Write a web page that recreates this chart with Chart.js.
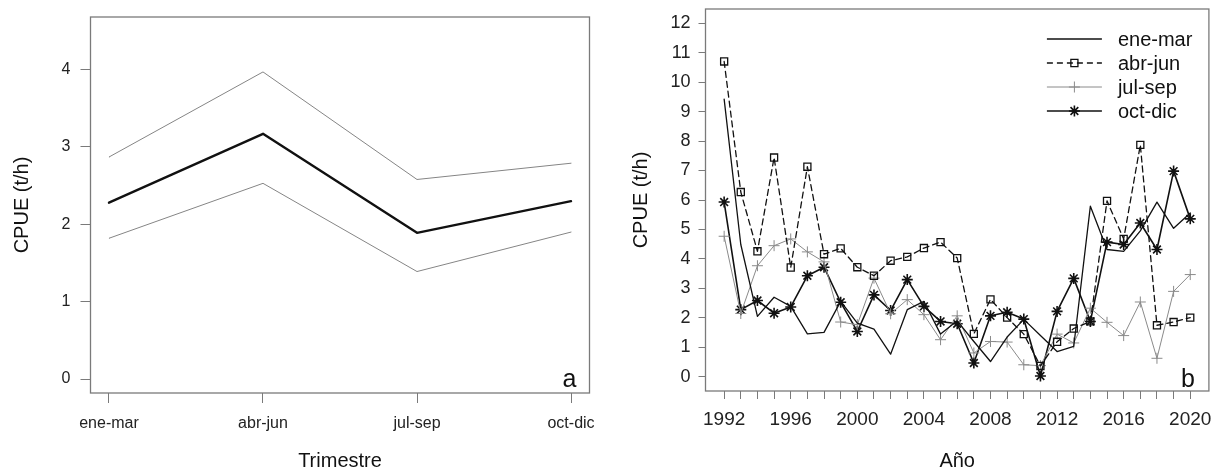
<!DOCTYPE html>
<html>
<head>
<meta charset="utf-8">
<script src="https://cdn.jsdelivr.net/npm/chart.js@4.4.1/dist/chart.umd.min.js"></script>
<style>
  html, body { margin: 0; padding: 0; background: #fff; }
  #wrap { position: relative; width: 1216px; height: 471px; }
  .panel { position: absolute; top: 0; width: 608px; height: 471px; }
  #panelA { left: 0; }
  #panelB { left: 608px; }
</style>
</head>
<body>
<div id="wrap">
  <div class="panel" id="panelA"><canvas id="chartA" width="608" height="471"></canvas></div>
  <div class="panel" id="panelB"><canvas id="chartB" width="608" height="471"></canvas></div>
</div>
<script>
// Panel a: CPUE by quarter with confidence band
const quarters = ['ene-mar', 'abr-jun', 'jul-sep', 'oct-dic'];
const quarterMean = [2.28, 3.17, 1.89, 2.30];
const quarterUpper = [2.87, 3.97, 2.58, 2.79];
const quarterLower = [1.82, 2.53, 1.39, 1.90];
const cpueTicksA = [0, 1, 2, 3, 4];

// Panel b: yearly CPUE for each quarter
const years = [1992, 1993, 1994, 1995, 1996, 1997, 1998, 1999, 2000, 2001,
               2002, 2003, 2004, 2005, 2006, 2007, 2008, 2009, 2010, 2011,
               2012, 2013, 2014, 2015, 2016, 2017, 2018, 2019, 2020];
const yearLabels = [1992, 1996, 2000, 2004, 2008, 2012, 2016, 2020];
const cpueTicksB = [0, 1, 2, 3, 4, 5, 6, 7, 8, 9, 10, 11, 12];

const cpueEneMar = [9.42, 4.49, 2.05, 2.70, 2.39, 1.46, 1.51, 2.56, 1.82, 1.62,
                    0.77, 2.28, 2.56, 1.45, 1.90, 1.20, 0.52, 1.35, 1.95, 1.40,
                    0.86, 1.03, 5.79, 4.32, 4.26, 4.95, 5.93, 5.04, 5.56];
const cpueAbrJun = [10.70, 6.27, 4.26, 7.44, 3.71, 7.13, 4.16, 4.36, 3.72, 3.43,
                    3.94, 4.07, 4.37, 4.57, 4.03, 1.46, 2.63, 2.01, 1.45, 0.37,
                    1.19, 1.64, 1.88, 5.97, 4.68, 7.87, 1.75, 1.86, 2.01];
const cpueJulSep = [4.77, 2.15, 3.77, 4.45, 4.68, 4.24, 3.90, 1.86, 1.77, 3.35,
                    2.14, 2.62, 2.11, 1.26, 2.07, 0.81, 1.20, 1.18, 0.41, 0.38,
                    1.45, 1.15, 2.33, 1.85, 1.40, 2.54, 0.63, 2.90, 3.47];
const cpueOctDic = [5.93, 2.28, 2.59, 2.16, 2.37, 3.43, 3.72, 2.53, 1.54, 2.78,
                    2.25, 3.30, 2.39, 1.88, 1.80, 0.47, 2.07, 2.19, 1.96, 0.03,
                    2.22, 3.34, 1.88, 4.57, 4.49, 5.22, 4.32, 6.98, 5.36];

Chart.defaults.font.family = "'Liberation Sans', Arial, sans-serif";
Chart.defaults.color = '#222';

const AXIS_GREY = '#7a7a7a';

// fixed-size axis boxes so the plot region lands where we want it;
// tick-label overhang must not push the plot region inwards
function fixBox(size) {
    return s => {
        if (s.isHorizontal()) s.height = size; else s.width = size;
        s.paddingTop = 0;
        s.paddingBottom = 0;
        s.paddingLeft = 0;
        s.paddingRight = 0;
    };
}

// box around the plotting region plus the panel letter in the corner
const panelFrame = {
    id: 'panelFrame',
    afterDatasetsDraw(chart, args, opts) {
        const { ctx, chartArea: a } = chart;
        ctx.save();
        ctx.strokeStyle = AXIS_GREY;
        ctx.lineWidth = 1.3;
        ctx.strokeRect(a.left, a.top, a.right - a.left, a.bottom - a.top);
        ctx.fillStyle = '#111';
        ctx.font = "25px 'Liberation Sans', Arial, sans-serif";
        ctx.textAlign = 'right';
        ctx.textBaseline = 'alphabetic';
        ctx.fillText(opts.letter, a.right - opts.dx, a.bottom - opts.dy);
        ctx.restore();
    }
};

// key in the top-right corner: line segment, marker in the middle, label
const seriesKey = {
    id: 'seriesKey',
    afterDatasetsDraw(chart, args, opts) {
        const { ctx, chartArea: a } = chart;
        chart.data.datasets.forEach((ds, i) => {
            const y = a.top + opts.top + i * opts.rowGap;
            const x0 = a.right - opts.lineStart;
            const x1 = x0 + opts.lineLength;
            ctx.save();
            ctx.strokeStyle = ds.borderColor;
            ctx.lineWidth = ds.borderWidth;
            ctx.setLineDash(ds.borderDash || []);
            ctx.beginPath();
            ctx.moveTo(x0, y);
            ctx.lineTo(x1, y);
            ctx.stroke();
            ctx.setLineDash([]);
            if (ds.pointRadius > 0) {
                ctx.fillStyle = 'rgba(0,0,0,0)';
                ctx.strokeStyle = ds.pointBorderColor;
                ctx.lineWidth = ds.pointBorderWidth;
                Chart.helpers.drawPoint(ctx, {
                    pointStyle: ds.pointStyle,
                    radius: ds.pointRadius,
                    borderWidth: ds.pointBorderWidth,
                    rotation: 0
                }, (x0 + x1) / 2, y);
            }
            ctx.fillStyle = '#111';
            ctx.font = "20px 'Liberation Sans', Arial, sans-serif";
            ctx.textAlign = 'left';
            ctx.textBaseline = 'middle';
            ctx.fillText(ds.label, x1 + opts.textGap, y + 1);
            ctx.restore();
        });
    }
};

function pairs(xs, ys) {
    return xs.map((x, i) => ({ x: x, y: ys[i] }));
}

const quarterIdx = [1, 2, 3, 4];

// ---- panel a ----
new Chart(document.getElementById('chartA').getContext('2d'), {
    type: 'line',
    data: {
        datasets: [
            {
                label: 'superior',
                data: pairs(quarterIdx, quarterUpper),
                borderColor: '#858585',
                borderWidth: 1,
                pointRadius: 0
            },
            {
                label: 'media',
                data: pairs(quarterIdx, quarterMean),
                borderColor: '#111',
                borderWidth: 2.4,
                pointRadius: 0
            },
            {
                label: 'inferior',
                data: pairs(quarterIdx, quarterLower),
                borderColor: '#858585',
                borderWidth: 1,
                pointRadius: 0
            }
        ]
    },
    options: {
        responsive: false,
        animation: false,
        events: [],
        layout: { padding: { left: 0, top: 17, right: 18.5, bottom: 0 } },
        elements: { line: { tension: 0, borderCapStyle: 'round', borderJoinStyle: 'round' } },
        plugins: {
            legend: { display: false },
            tooltip: { enabled: false },
            panelFrame: { letter: 'a', dx: 13, dy: 6 }
        },
        scales: {
            x: {
                type: 'linear',
                min: 0.88,
                max: 4.12,
                afterBuildTicks: s => { s.ticks = quarterIdx.map(v => ({ value: v })); },
                afterFit: fixBox(78),
                ticks: {
                    autoSkip: false,
                    maxRotation: 0,
                    minRotation: 0,
                    padding: 11,
                    font: { size: 16 },
                    callback: v => quarters[v - 1]
                },
                grid: { drawOnChartArea: false, tickLength: 10, color: AXIS_GREY },
                border: { display: false },
                title: {
                    display: true,
                    text: 'Trimestre',
                    color: '#111',
                    font: { size: 20, lineHeight: 1 },
                    padding: { top: 0, bottom: 0 }
                }
            },
            y: {
                type: 'linear',
                min: -0.18,
                max: 4.68,
                afterBuildTicks: s => { s.ticks = cpueTicksA.map(v => ({ value: v })); },
                afterFit: fixBox(90.5),
                ticks: { padding: 10, font: { size: 16 } },
                grid: { drawOnChartArea: false, tickLength: 10, color: AXIS_GREY },
                border: { display: false },
                title: {
                    display: true,
                    text: 'CPUE (t/h)',
                    color: '#111',
                    font: { size: 20, lineHeight: 1 },
                    padding: { top: 12, bottom: 0 }
                }
            }
        }
    },
    plugins: [panelFrame]
});

// ---- panel b ----
new Chart(document.getElementById('chartB').getContext('2d'), {
    type: 'line',
    data: {
        datasets: [
            {
                label: 'ene-mar',
                data: pairs(years, cpueEneMar),
                borderColor: '#111',
                borderWidth: 1.3,
                pointRadius: 0
            },
            {
                label: 'abr-jun',
                data: pairs(years, cpueAbrJun),
                borderColor: '#111',
                borderWidth: 1.3,
                borderDash: [6, 4],
                pointStyle: 'rect',
                pointRadius: 5,
                pointBorderWidth: 1.3,
                pointBorderColor: '#111',
                pointBackgroundColor: 'rgba(0,0,0,0)'
            },
            {
                label: 'jul-sep',
                data: pairs(years, cpueJulSep),
                borderColor: '#8a8a8a',
                borderWidth: 1,
                pointStyle: 'cross',
                pointRadius: 5.5,
                pointBorderWidth: 1,
                pointBorderColor: '#8a8a8a',
                pointBackgroundColor: 'rgba(0,0,0,0)'
            },
            {
                label: 'oct-dic',
                data: pairs(years, cpueOctDic),
                borderColor: '#111',
                borderWidth: 1.6,
                pointStyle: 'star',
                pointRadius: 5.5,
                pointBorderWidth: 1.6,
                pointBorderColor: '#111',
                pointBackgroundColor: 'rgba(0,0,0,0)'
            }
        ]
    },
    options: {
        responsive: false,
        animation: false,
        events: [],
        layout: { padding: { left: 0, top: 9, right: 2.5, bottom: 0 } },
        elements: { line: { tension: 0, borderCapStyle: 'round', borderJoinStyle: 'round' } },
        plugins: {
            legend: { display: false },
            tooltip: { enabled: false },
            panelFrame: { letter: 'b', dx: 14, dy: 4 },
            seriesKey: { top: 30, rowGap: 24, lineStart: 162, lineLength: 55, textGap: 16 }
        },
        scales: {
            x: {
                type: 'linear',
                min: 1990.88,
                max: 2021.12,
                afterBuildTicks: s => { s.ticks = years.map(v => ({ value: v })); },
                afterFit: fixBox(80),
                ticks: {
                    autoSkip: false,
                    maxRotation: 0,
                    minRotation: 0,
                    padding: 9,
                    font: { size: 19 },
                    callback: v => yearLabels.includes(v) ? String(v) : ''
                },
                grid: { drawOnChartArea: false, tickLength: 8, color: AXIS_GREY },
                border: { display: false },
                title: {
                    display: true,
                    text: 'Año',
                    color: '#111',
                    font: { size: 20, lineHeight: 1 },
                    padding: { top: 0, bottom: 0 }
                }
            },
            y: {
                type: 'linear',
                min: -0.48,
                max: 12.48,
                afterBuildTicks: s => { s.ticks = cpueTicksB.map(v => ({ value: v })); },
                afterFit: fixBox(97.5),
                ticks: { padding: 8, font: { size: 18 } },
                grid: { drawOnChartArea: false, tickLength: 7, color: AXIS_GREY },
                border: { display: false },
                title: {
                    display: true,
                    text: 'CPUE (t/h)',
                    color: '#111',
                    font: { size: 20, lineHeight: 1 },
                    padding: { top: 23, bottom: 0 }
                }
            }
        }
    },
    plugins: [panelFrame, seriesKey]
});
</script>
</body>
</html>
